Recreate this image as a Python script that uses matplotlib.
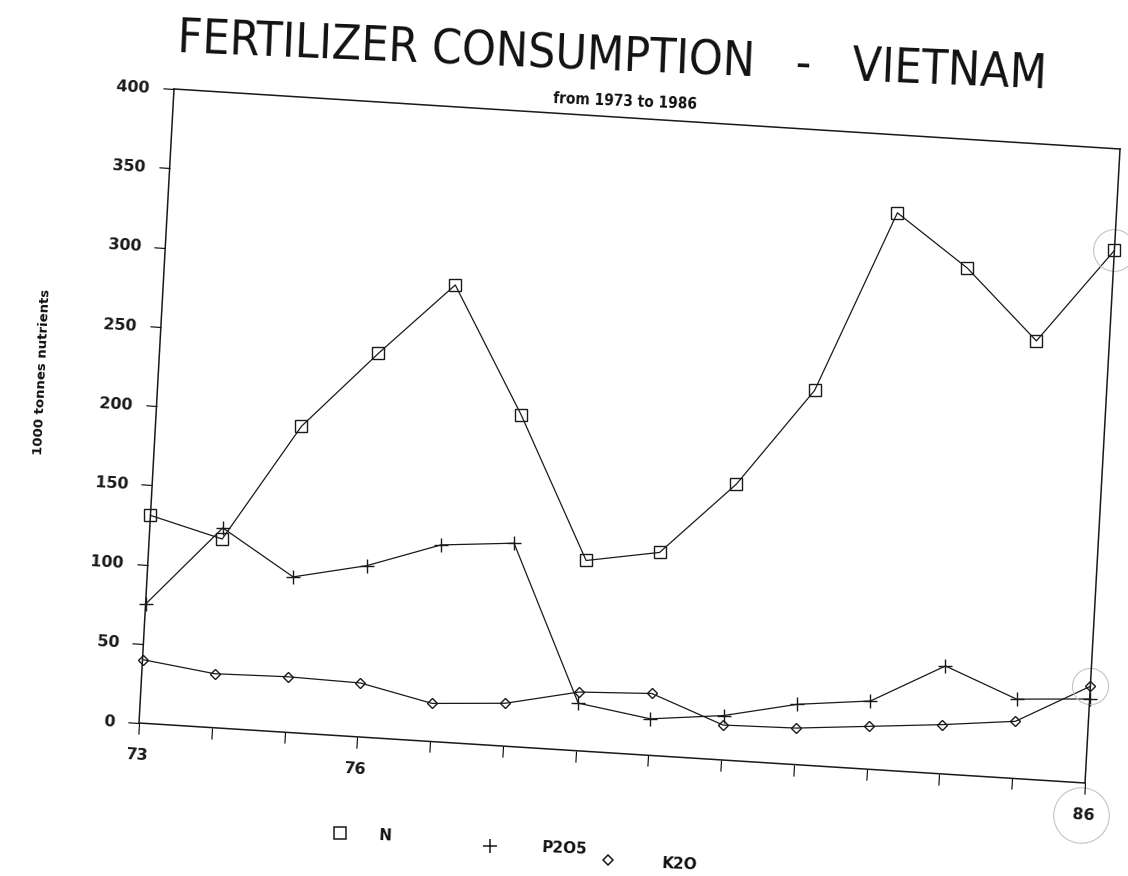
import matplotlib.pyplot as plt
import numpy as np
from matplotlib.transforms import Affine2D, offset_copy
from matplotlib.lines import Line2D
from mpl_toolkits.axisartist import floating_axes
from mpl_toolkits.axisartist.grid_finder import FixedLocator, DictFormatter

#Messwerte, 1000 t Naehrstoff
jahre = np.arange(73, 87)
N     = [131, 119, 193, 242, 288, 209, 120, 128, 174, 236, 351, 319, 276, 336]
P2O5  = [75, 126, 98, 108, 124, 128, 30, 23, 28, 38, 43, 68, 50, 53]
K2O   = [40, 34, 35, 34, 24, 27, 37, 39, 22, 23, 27, 31, 36, 61]

y_ticks        = [0, 50, 100, 150, 200, 250, 300, 350, 400]
x_beschriftung = {73: '73', 76: '76', 86: '86'}

W, H = 1128, 876
fig = plt.figure(figsize=(W/100, H/100), dpi=100)
fig.patch.set_facecolor('white')

def pos(x, y):  #Pixel (von oben) -> Figure-Koordinaten
    return x/W, 1 - y/H

#Blatt liegt leicht schief: Daten -> Pixel (y nach oben)
seite = Affine2D(np.array([[72.77,  0.0875, 139 - 72.77*73],
                           [-4.615, 1.585,  (H - 723) + 4.615*73],
                           [0.0,    0.0,    1.0]]))

helper = floating_axes.GridHelperCurveLinear(
    seite, extremes=(73, 86, 0, 400),
    grid_locator1=FixedLocator(list(jahre)),
    tick_formatter1=DictFormatter(x_beschriftung),
    grid_locator2=FixedLocator(y_ticks))

ax = fig.add_axes([0, 0, 1, 1], axes_class=floating_axes.FloatingAxes,
                  grid_helper=helper)
ax.set_xlim(0, W)
ax.set_ylim(0, H)

for seite_name in ['left', 'right', 'bottom', 'top']:
    ax.axis[seite_name].line.set_linewidth(1.1)
    ax.axis[seite_name].line.set_color('#1a1a1a')
for seite_name in ['top', 'right']:
    ax.axis[seite_name].major_ticks.set_visible(False)
    ax.axis[seite_name].major_ticklabels.set_visible(False)
for seite_name in ['left', 'bottom']:
    ax.axis[seite_name].major_ticks.set_tick_out(True)
    ax.axis[seite_name].major_ticks.set_ticksize(8)
    ax.axis[seite_name].major_ticklabels.set(fontsize=11.5, fontweight='bold',
                                             color='#1a1a1a')
ax.axis['left'].major_ticklabels.set_pad(9)
ax.axis['bottom'].major_ticklabels.set_pad(10)

aux = ax.get_aux_axes(seite)
stil = dict(color='#1a1a1a', lw=0.9, mfc='none', mec='#1a1a1a', mew=1.0)
aux.plot(jahre, N, marker='s', ms=8, **stil)
aux.plot(jahre, P2O5, marker='+', ms=10, **stil)
aux.plot(jahre, K2O, marker='D', ms=5.5, **stil)

#Bleistiftkreise
blei = dict(marker='o', mfc='none', mec='#c4c4c4', mew=0.8, ls='none')
aux.plot(jahre[-1], N[-1], ms=30, **blei)
aux.plot(jahre[-1], K2O[-1], ms=26, **blei)
aux.plot(jahre[-1], 0, ms=40,
         transform=offset_copy(aux.transData, fig=fig, x=-3, y=-23, units='points'),
         **blei)

#Texte
fig.text(*pos(612, 57), 'FERTILIZER CONSUMPTION   -   VIETNAM', ha='center', va='center',
         rotation=-2.4, rotation_mode='anchor', fontsize=34.5, fontstretch='condensed',
         family='DejaVu Sans', color='#111111')
fig.text(*pos(625, 102), 'from 1973 to 1986', ha='center', va='center',
         rotation=-2.4, rotation_mode='anchor', fontsize=11, fontweight='bold',
         fontstretch='condensed', family='DejaVu Sans', color='#111111')
fig.text(*pos(42, 372), '1000 tonnes nutrients', ha='center', va='center',
         rotation=87.4, rotation_mode='anchor', fontsize=9.5, fontweight='bold',
         color='#111111')

#Legende
legende = [('s', 8, 'N', (340, 833), (385, 836)),
           ('+', 10, 'P2O5', (490, 846), (565, 848)),
           ('D', 5, 'K2O', (608, 860), (680, 864))]
for m, ms, name, p_m, p_t in legende:
    fig.add_artist(Line2D([pos(*p_m)[0]], [pos(*p_m)[1]], marker=m, ms=ms,
                          mfc='none', mec='#1a1a1a', mew=1.1, ls='none',
                          transform=fig.transFigure))
    fig.text(*pos(*p_t), name, ha='center', va='center', rotation=-2.4,
             fontsize=11, fontweight='bold', color='#111111')

fig.savefig('out.png', dpi=100)
